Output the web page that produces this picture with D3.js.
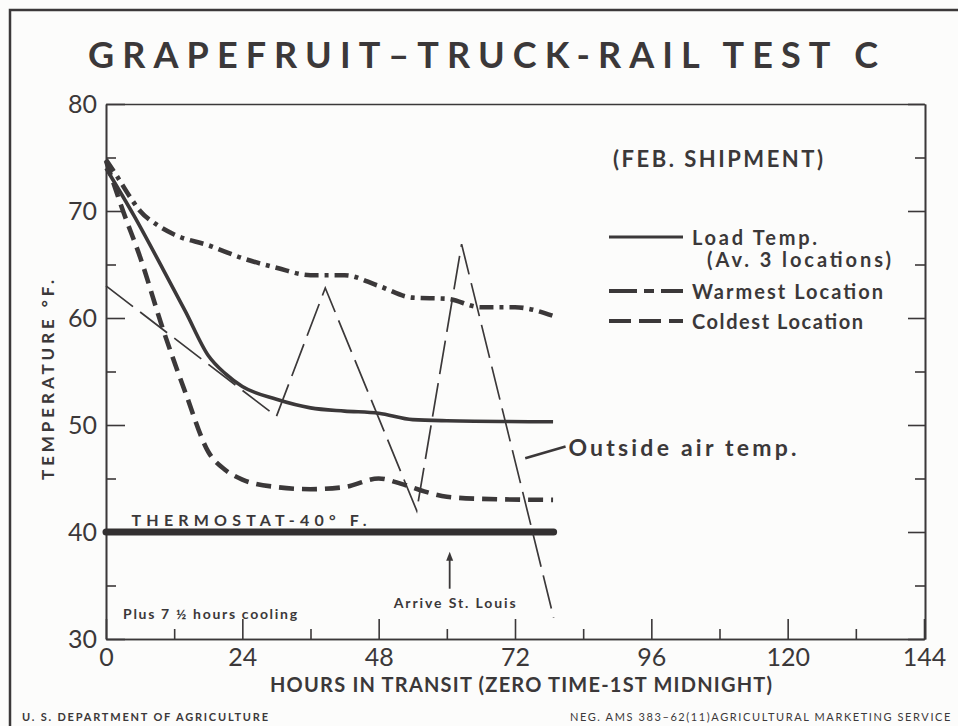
<!DOCTYPE html>
<html>
<head>
<meta charset="utf-8">
<script src="https://cdn.jsdelivr.net/npm/d3@7"></script>
<style>
  body { margin: 0; background: #fcfcfb; }
  svg { display: block; }
  text { fill: #3b3839; font-family: Lato, "Open Sans", sans-serif; }
</style>
</head>
<body>
<div id="chart"></div>
<script>
// tick values
var xMajor = [0, 24, 48, 72, 96, 120, 144];
var xMinor = [12, 36, 60, 84, 108, 132];
var yMajor = [30, 40, 50, 60, 70, 80];
var yMinor = [35, 45, 55, 65, 75];

// load temp (av. 3 locations)
var loadHours = [0, 5, 10, 14, 18, 21, 24, 30, 36, 42, 48, 54, 60, 78.7];
var loadTemp = [74, 69.5, 64.6, 60.6, 56.5, 54.8, 53.6, 52.4, 51.6, 51.3, 51.1, 50.5, 50.4, 50.3];

// warmest location
var warmHours = [0, 2, 4, 6, 9, 12, 18, 24, 30, 36, 42, 48, 54, 60, 66, 72, 78.7];
var warmTemp = [74.8, 73.2, 71.5, 70, 68.7, 67.8, 66.8, 65.6, 64.7, 64, 64, 63, 61.9, 61.8, 61, 61, 60.2];

// coldest location
var coldHours = [0, 3, 6, 10, 14, 18, 21, 24, 30, 36, 42, 48, 52, 56, 60, 66, 78.7];
var coldTemp = [74.7, 70, 65.7, 59, 53, 47.5, 45.8, 44.9, 44.2, 44, 44.2, 45, 44.5, 43.8, 43.3, 43.1, 43];

// outside air temp.
var outHours = [0, 30, 38.6, 54.7, 62.6, 78.8];
var outTemp = [63, 50.8, 62.8, 42, 66.9, 32];

// thermostat setting
var thermoHours = [0, 78.8];
var thermoTemp = [40, 40];

var legendNames = ["Load Temp.", "Warmest Location", "Coldest Location"];

var W = 958, H = 726;
var ink = "#3b3839";
var plot = { left: 106, top: 104, right: 924, bottom: 639 };

var svg = d3.select("#chart")
    .append("svg")
    .attr("width", W)
    .attr("height", H);

// frame of the print
svg.append("path")
    .attr("d", "M10,726 V10 H958")
    .attr("fill", "none")
    .attr("stroke", ink)
    .attr("stroke-width", 2.5);

var x = d3.scaleLinear().domain([0, 144]).range([plot.left, plot.right]);
var y = d3.scaleLinear().domain([30, 80]).range([plot.bottom, plot.top]);

function styleAxis(g) {
    g.selectAll("path, line").attr("stroke", ink).attr("stroke-width", 1.6);
    g.selectAll("text")
        .style("font-family", "Lato, sans-serif")
        .style("font-size", "25px")
        .attr("fill", "#403c3d");
}

// bottom axis: majors with labels, minors short
svg.append("g")
    .attr("transform", "translate(0," + plot.bottom + ")")
    .call(d3.axisBottom(x).tickValues(xMajor).tickSizeInner(-20).tickSizeOuter(0).tickPadding(9)
        .tickFormat(d3.format("d")))
    .call(styleAxis);
svg.append("g")
    .attr("transform", "translate(0," + plot.bottom + ")")
    .call(d3.axisBottom(x).tickValues(xMinor).tickSizeInner(-10).tickSizeOuter(0).tickFormat(""))
    .call(styleAxis);

// left axis
svg.append("g")
    .attr("transform", "translate(" + plot.left + ",0)")
    .call(d3.axisLeft(y).tickValues(yMajor).tickSizeInner(-19).tickSizeOuter(0).tickPadding(9))
    .call(styleAxis);
svg.append("g")
    .attr("transform", "translate(" + plot.left + ",0)")
    .call(d3.axisLeft(y).tickValues(yMinor).tickSizeInner(-10).tickSizeOuter(0).tickFormat(""))
    .call(styleAxis);

// right axis, ticks pointing in
var xr = plot.right + 1;
svg.append("g")
    .attr("transform", "translate(" + xr + ",0)")
    .call(d3.axisRight(y).tickValues(yMajor).tickSizeInner(-17).tickSizeOuter(0).tickFormat(""))
    .call(styleAxis);
svg.append("g")
    .attr("transform", "translate(" + xr + ",0)")
    .call(d3.axisRight(y).tickValues(yMinor).tickSizeInner(-10).tickSizeOuter(0).tickFormat(""))
    .call(styleAxis);

// top line
svg.append("g")
    .attr("transform", "translate(0," + plot.top + ")")
    .call(d3.axisTop(x).tickValues([]).tickSizeOuter(0))
    .call(styleAxis);

// series
function series(hours, temps) {
    return hours.map(function (h, i) { return { h: h, t: temps[i] }; });
}

var smooth = d3.line()
    .x(function (d) { return x(d.h); })
    .y(function (d) { return y(d.t); })
    .curve(d3.curveMonotoneX);

var straight = d3.line()
    .x(function (d) { return x(d.h); })
    .y(function (d) { return y(d.t); });

var styles = {
    load: { width: 3.6, dash: null },
    warm: { width: 4.6, dash: "14,6,4,6" },
    cold: { width: 4.6, dash: "15,8" },
    out: { width: 1.7, dash: "34,9" }
};

// thermostat bar
svg.append("path")
    .datum(series(thermoHours, thermoTemp))
    .attr("d", straight)
    .attr("fill", "none")
    .attr("stroke", "#333031")
    .attr("stroke-width", 7)
    .attr("stroke-linecap", "round");

svg.append("path")
    .datum(series(outHours, outTemp))
    .attr("d", straight)
    .attr("fill", "none")
    .attr("stroke", ink)
    .attr("stroke-width", styles.out.width)
    .attr("stroke-dasharray", styles.out.dash);

svg.append("path")
    .datum(series(coldHours, coldTemp))
    .attr("d", smooth)
    .attr("fill", "none")
    .attr("stroke", ink)
    .attr("stroke-width", styles.cold.width)
    .attr("stroke-dasharray", styles.cold.dash);

svg.append("path")
    .datum(series(warmHours, warmTemp))
    .attr("d", smooth)
    .attr("fill", "none")
    .attr("stroke", ink)
    .attr("stroke-width", styles.warm.width)
    .attr("stroke-dasharray", styles.warm.dash);

svg.append("path")
    .datum(series(loadHours, loadTemp))
    .attr("d", smooth)
    .attr("fill", "none")
    .attr("stroke", ink)
    .attr("stroke-width", styles.load.width);

// titles
svg.append("text")
    .attr("x", 88)
    .attr("y", 68)
    .attr("textLength", 790)
    .attr("lengthAdjust", "spacing")
    .style("font-size", "36px")
    .style("font-weight", 700)
    .text("GRAPEFRUIT\u2013TRUCK-RAIL TEST C");

svg.append("text")
    .attr("x", 270)
    .attr("y", 692)
    .attr("textLength", 502)
    .attr("lengthAdjust", "spacing")
    .style("font-size", "20px")
    .style("font-weight", 700)
    .text("HOURS IN TRANSIT (ZERO TIME-1ST MIDNIGHT)");

svg.append("text")
    .attr("transform", "translate(54,380) rotate(-90)")
    .attr("text-anchor", "middle")
    .attr("textLength", 200)
    .attr("lengthAdjust", "spacing")
    .style("font-size", "17px")
    .style("font-weight", 700)
    .text("TEMPERATURE \u00b0F.");

svg.append("text")
    .attr("x", 613)
    .attr("y", 167)
    .attr("textLength", 210)
    .attr("lengthAdjust", "spacing")
    .style("font-size", "22px")
    .style("font-weight", 700)
    .text("(FEB. SHIPMENT)");

// legend
var legendY = [237, 291, 321];
var legendTextW = [125, 191, 171];
var legend = svg.selectAll(".legend")
    .data(legendNames)
    .enter()
    .append("g")
    .attr("class", "legend");

legend.append("line")
    .attr("x1", 609)
    .attr("x2", 683)
    .attr("y1", function (d, i) { return legendY[i]; })
    .attr("y2", function (d, i) { return legendY[i]; })
    .attr("stroke", ink)
    .attr("stroke-width", function (d, i) { return i === 0 ? 3 : 4; })
    .attr("stroke-dasharray", function (d, i) {
        return i === 0 ? null : (i === 1 ? "28,7,10,7,24" : "22,8,22,8,20");
    });

legend.append("text")
    .attr("x", 692)
    .attr("y", function (d, i) { return legendY[i] + 8; })
    .attr("textLength", function (d, i) { return legendTextW[i]; })
    .attr("lengthAdjust", "spacing")
    .style("font-size", "20px")
    .style("font-weight", 700)
    .text(function (d) { return d; });

svg.append("text")
    .attr("x", 707)
    .attr("y", 267)
    .attr("textLength", 184)
    .attr("lengthAdjust", "spacing")
    .style("font-size", "20px")
    .style("font-weight", 700)
    .text("(Av. 3 locations)");

// annotations
svg.append("text")
    .attr("x", x(4.5))
    .attr("y", y(40) - 6)
    .attr("textLength", 235)
    .attr("lengthAdjust", "spacing")
    .style("font-size", "16px")
    .style("font-weight", 700)
    .text("THERMOSTAT-40\u00b0 F.");

svg.append("path")
    .attr("d", "M" + x(73.8) + "," + y(46.9) + "L" + x(80.9) + "," + y(48))
    .attr("stroke", ink)
    .attr("stroke-width", 2.6);

svg.append("text")
    .attr("x", x(81.4))
    .attr("y", y(47.1))
    .attr("textLength", 228)
    .attr("lengthAdjust", "spacing")
    .style("font-size", "23px")
    .style("font-weight", 700)
    .text("Outside air temp.");

// arrive st. louis arrow
var arriveH = 60.5;
svg.append("line")
    .attr("x1", x(arriveH)).attr("x2", x(arriveH))
    .attr("y1", y(34.7)).attr("y2", y(37.6))
    .attr("stroke", ink)
    .attr("stroke-width", 1.8);
svg.append("path")
    .attr("d", "M" + x(arriveH) + "," + (y(37.6) - 6) + "l-3.5,9h7z")
    .attr("fill", ink);

svg.append("text")
    .attr("x", x(arriveH) + 5)
    .attr("y", y(32.9))
    .attr("text-anchor", "middle")
    .attr("textLength", 122)
    .attr("lengthAdjust", "spacing")
    .style("font-size", "14px")
    .style("font-weight", 700)
    .text("Arrive St. Louis");

svg.append("text")
    .attr("x", x(3))
    .attr("y", y(31.9))
    .attr("textLength", 174)
    .attr("lengthAdjust", "spacing")
    .style("font-size", "14px")
    .style("font-weight", 700)
    .text("Plus 7 \u00bd hours cooling");

// footer
svg.append("text")
    .attr("x", 22)
    .attr("y", 721)
    .attr("textLength", 246)
    .attr("lengthAdjust", "spacing")
    .style("font-size", "11px")
    .style("font-weight", 700)
    .text("U. S. DEPARTMENT OF AGRICULTURE");

svg.append("text")
    .attr("x", 952)
    .attr("y", 721)
    .attr("text-anchor", "end")
    .style("font-size", "11px")
    .style("letter-spacing", "1.6px")
    .text("NEG. AMS 383\u201362(11)AGRICULTURAL MARKETING SERVICE");
</script>
</body>
</html>
